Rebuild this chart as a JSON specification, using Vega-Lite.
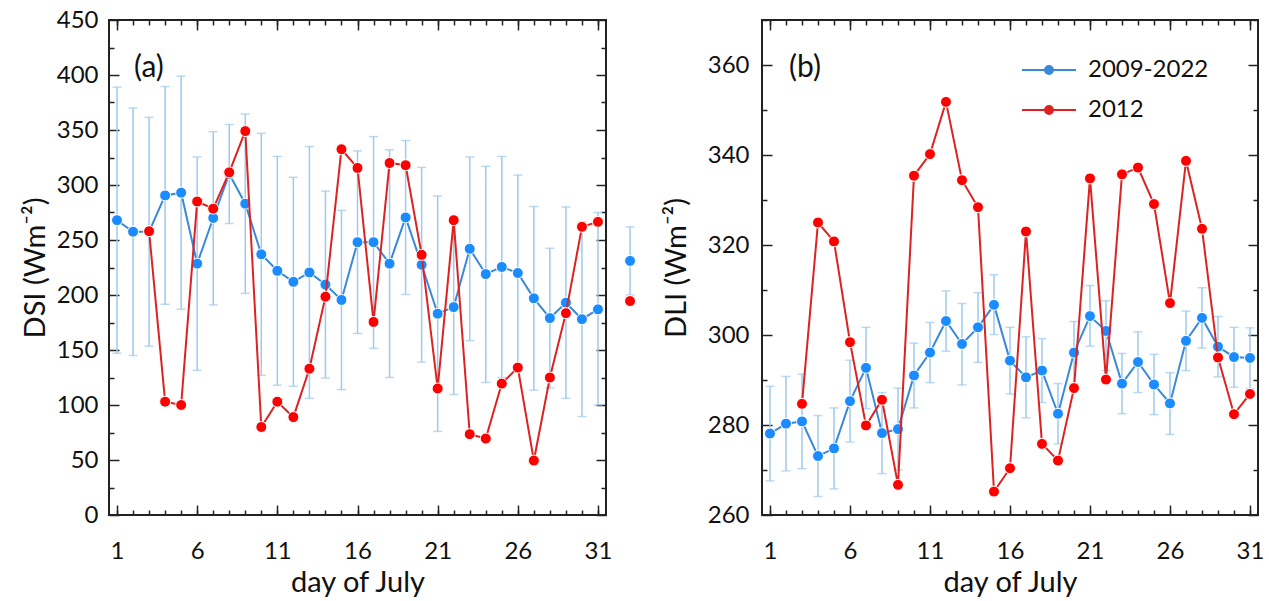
{
  "$schema": "https://vega.github.io/schema/vega-lite/v6.json",
  "padding": {"left": 20, "top": 7, "right": 10, "bottom": 3},
  "background": "white",
  "datasets": {
    "dsi": [
      {"day":1,"kind":"d","clim":268,"lo":147,"hi":389,"y2012":null},
      {"day":2,"kind":"d","clim":257.5,"lo":145,"hi":370,"y2012":null},
      {"day":3,"kind":"d","clim":257.5,"lo":153.5,"hi":361.5,"y2012":258},
      {"day":4,"kind":"d","clim":290.5,"lo":191.5,"hi":389.5,"y2012":103},
      {"day":5,"kind":"d","clim":293,"lo":187,"hi":399,"y2012":100},
      {"day":6,"kind":"d","clim":228.5,"lo":131.5,"hi":325.5,"y2012":285},
      {"day":7,"kind":"d","clim":270,"lo":191,"hi":348.5,"y2012":278.5},
      {"day":8,"kind":"d","clim":310,"lo":265,"hi":355,"y2012":311.5},
      {"day":9,"kind":"d","clim":283,"lo":201.5,"hi":364.5,"y2012":349},
      {"day":10,"kind":"d","clim":237,"lo":127,"hi":347,"y2012":80},
      {"day":11,"kind":"d","clim":222,"lo":118,"hi":326,"y2012":103},
      {"day":12,"kind":"d","clim":212,"lo":117,"hi":307,"y2012":89},
      {"day":13,"kind":"d","clim":220.5,"lo":106,"hi":335,"y2012":133},
      {"day":14,"kind":"d","clim":209.5,"lo":124.5,"hi":294.5,"y2012":198.5},
      {"day":15,"kind":"d","clim":195.5,"lo":114,"hi":277,"y2012":332.5},
      {"day":16,"kind":"d","clim":248,"lo":165,"hi":331,"y2012":315.5},
      {"day":17,"kind":"d","clim":248,"lo":151.5,"hi":344,"y2012":175.5},
      {"day":18,"kind":"d","clim":228.5,"lo":125,"hi":332,"y2012":320},
      {"day":19,"kind":"d","clim":270.5,"lo":200.5,"hi":340.5,"y2012":318},
      {"day":20,"kind":"d","clim":227.5,"lo":139,"hi":316,"y2012":236.5},
      {"day":21,"kind":"d","clim":183,"lo":76,"hi":290,"y2012":115},
      {"day":22,"kind":"d","clim":189,"lo":109.5,"hi":268.5,"y2012":268},
      {"day":23,"kind":"d","clim":242,"lo":158.5,"hi":325.5,"y2012":73.5},
      {"day":24,"kind":"d","clim":219,"lo":120.5,"hi":317,"y2012":69.5},
      {"day":25,"kind":"d","clim":225.5,"lo":125,"hi":326,"y2012":119.5},
      {"day":26,"kind":"d","clim":220,"lo":131,"hi":309,"y2012":134},
      {"day":27,"kind":"d","clim":197,"lo":113.5,"hi":280.5,"y2012":49.5},
      {"day":28,"kind":"d","clim":179,"lo":115.5,"hi":242.5,"y2012":125},
      {"day":29,"kind":"d","clim":193,"lo":106,"hi":280,"y2012":183.5},
      {"day":30,"kind":"d","clim":178,"lo":89.5,"hi":266.5,"y2012":262},
      {"day":31,"kind":"d","clim":187,"lo":100,"hi":275,"y2012":266.5},
      {"day":33,"kind":"m","clim":231,"lo":200,"hi":262,"y2012":194.5}
    ],
    "dli": [
      {"day":1,"kind":"d","clim":278.1,"lo":267.6,"hi":288.6,"y2012":null},
      {"day":2,"kind":"d","clim":280.3,"lo":269.8,"hi":290.8,"y2012":null},
      {"day":3,"kind":"d","clim":280.8,"lo":270.3,"hi":291.3,"y2012":284.7},
      {"day":4,"kind":"d","clim":273.1,"lo":264.1,"hi":282.1,"y2012":325.0},
      {"day":5,"kind":"d","clim":274.8,"lo":265.8,"hi":283.8,"y2012":320.8},
      {"day":6,"kind":"d","clim":285.3,"lo":276.2,"hi":294.4,"y2012":298.4},
      {"day":7,"kind":"d","clim":292.7,"lo":283.6,"hi":301.7,"y2012":279.9},
      {"day":8,"kind":"d","clim":278.2,"lo":269.2,"hi":287.2,"y2012":285.6},
      {"day":9,"kind":"d","clim":279.1,"lo":270.0,"hi":288.2,"y2012":266.7},
      {"day":10,"kind":"d","clim":291.0,"lo":283.8,"hi":298.2,"y2012":335.4},
      {"day":11,"kind":"d","clim":296.1,"lo":289.4,"hi":302.8,"y2012":340.2},
      {"day":12,"kind":"d","clim":303.1,"lo":296.4,"hi":309.8,"y2012":351.8},
      {"day":13,"kind":"d","clim":298.0,"lo":288.9,"hi":307.0,"y2012":334.4},
      {"day":14,"kind":"d","clim":301.7,"lo":293.9,"hi":309.4,"y2012":328.4},
      {"day":15,"kind":"d","clim":306.7,"lo":300.1,"hi":313.4,"y2012":265.2},
      {"day":16,"kind":"d","clim":294.3,"lo":286.9,"hi":301.7,"y2012":270.4},
      {"day":17,"kind":"d","clim":290.6,"lo":281.6,"hi":299.6,"y2012":323.0},
      {"day":18,"kind":"d","clim":292.1,"lo":285.0,"hi":299.2,"y2012":275.8},
      {"day":19,"kind":"d","clim":282.5,"lo":275.8,"hi":289.2,"y2012":272.1},
      {"day":20,"kind":"d","clim":296.1,"lo":289.2,"hi":303.0,"y2012":288.2},
      {"day":21,"kind":"d","clim":304.2,"lo":297.5,"hi":311.0,"y2012":334.8},
      {"day":22,"kind":"d","clim":300.9,"lo":292.1,"hi":307.6,"y2012":290.1},
      {"day":23,"kind":"d","clim":289.2,"lo":282.5,"hi":295.9,"y2012":335.7},
      {"day":24,"kind":"d","clim":294.0,"lo":287.2,"hi":300.7,"y2012":337.2},
      {"day":25,"kind":"d","clim":289.0,"lo":282.3,"hi":295.7,"y2012":329.1},
      {"day":26,"kind":"d","clim":284.8,"lo":277.9,"hi":291.6,"y2012":307.1},
      {"day":27,"kind":"d","clim":298.7,"lo":292.1,"hi":305.3,"y2012":338.7},
      {"day":28,"kind":"d","clim":303.8,"lo":297.1,"hi":310.5,"y2012":323.6},
      {"day":29,"kind":"d","clim":297.4,"lo":290.7,"hi":304.1,"y2012":295.0},
      {"day":30,"kind":"d","clim":295.1,"lo":288.4,"hi":301.7,"y2012":282.4},
      {"day":31,"kind":"d","clim":294.9,"lo":288.1,"hi":301.6,"y2012":286.9}
    ]
  },
  "hconcat": [
    {
      "width": 497,
      "height": 495,
      "data": {"name": "dsi"},
      "title": {"text": "(a)", "anchor": "start", "frame": "group", "orient": "top", "offset": 0, "dx": 25, "dy": 90, "baseline": "middle", "fontSize": 30, "fontWeight": "normal", "font": "Lato", "color": "#111"},
      "resolve": {"axis": {"x": "independent", "y": "independent"}},
      "layer": [
        {
          "mark": {"type": "rule", "color": "#9dcaee", "strokeWidth": 1.5},
          "encoding": {
            "x": {"field": "day", "type": "quantitative", "scale": {"domain": [0.5, 31.5], "nice": false, "zero": false},
                  "axis": {"orient": "bottom", "values": [1,6,11,16,21,26,31], "tickSize": -10, "labelPadding": 34, "title": "day of July", "titlePadding": 5, "labelFlush": false, "labelOverlap": false}},
            "y": {"field": "lo", "type": "quantitative", "scale": {"domain": [0, 450], "nice": false, "zero": false},
                  "axis": {"orient": "left", "values": [0,50,100,150,200,250,300,350,400,450], "tickSize": -10, "labelPadding": 21, "title": "DSI (Wm⁻²)", "titlePadding": 6, "labelFlush": false, "labelOverlap": false}},
            "y2": {"field": "hi"}
          }
        },
        {
          "mark": {"type": "tick", "orient": "horizontal", "color": "#9dcaee", "size": 9, "thickness": 1.5},
          "encoding": {
            "x": {"field": "day", "type": "quantitative", "scale": {"domain": [0.5, 31.5], "nice": false, "zero": false},
                  "axis": {"orient": "bottom", "values": [1,2,3,4,5,6,7,8,9,10,11,12,13,14,15,16,17,18,19,20,21,22,23,24,25,26,27,28,29,30,31], "tickSize": -5, "labels": false, "title": null}},
            "y": {"field": "hi", "type": "quantitative", "scale": {"domain": [0, 450], "nice": false, "zero": false},
                  "axis": {"orient": "left", "values": [25,75,125,175,225,275,325,375,425], "tickSize": -5, "labels": false, "title": null}}
          }
        },
        {
          "mark": {"type": "tick", "orient": "horizontal", "color": "#9dcaee", "size": 9, "thickness": 1.5},
          "encoding": {
            "x": {"field": "day", "type": "quantitative", "scale": {"domain": [0.5, 31.5], "nice": false, "zero": false},
                  "axis": {"orient": "top", "values": [1,6,11,16,21,26,31], "tickSize": -10, "labels": false, "title": null}},
            "y": {"field": "lo", "type": "quantitative", "scale": {"domain": [0, 450], "nice": false, "zero": false},
                  "axis": {"orient": "right", "values": [0,50,100,150,200,250,300,350,400,450], "tickSize": -10, "labels": false, "title": null}}
          }
        },
        {
          "transform": [{"filter": "datum.kind == 'd'"}],
          "mark": {"type": "line", "color": "#3a88d8", "strokeWidth": 2},
          "encoding": {
            "x": {"field": "day", "type": "quantitative", "scale": {"domain": [0.5, 31.5], "nice": false, "zero": false},
                  "axis": {"orient": "top", "values": [1,2,3,4,5,6,7,8,9,10,11,12,13,14,15,16,17,18,19,20,21,22,23,24,25,26,27,28,29,30,31], "tickSize": -5, "labels": false, "title": null}},
            "y": {"field": "clim", "type": "quantitative", "scale": {"domain": [0, 450], "nice": false, "zero": false},
                  "axis": {"orient": "right", "values": [25,75,125,175,225,275,325,375,425], "tickSize": -5, "labels": false, "title": null}}
          }
        },
        {
          "mark": {"type": "circle", "size": 120, "color": "#1a8cff", "stroke": "white", "strokeWidth": 1, "opacity": 1},
          "encoding": {
            "x": {"field": "day", "type": "quantitative", "axis": null},
            "y": {"field": "clim", "type": "quantitative", "axis": null}
          }
        },
        {
          "transform": [{"filter": "datum.kind == 'd'"}],
          "mark": {"type": "line", "color": "#dd2222", "strokeWidth": 2},
          "encoding": {
            "x": {"field": "day", "type": "quantitative", "axis": null},
            "y": {"field": "y2012", "type": "quantitative", "axis": null}
          }
        },
        {
          "mark": {"type": "circle", "size": 120, "color": "#ff0000", "stroke": "white", "strokeWidth": 1, "opacity": 1},
          "encoding": {
            "x": {"field": "day", "type": "quantitative", "axis": null},
            "y": {"field": "y2012", "type": "quantitative", "axis": null}
          }
        }
      ]
    },
    {
      "width": 496,
      "height": 495,
      "data": {"name": "dli"},
      "title": {"text": "(b)", "anchor": "start", "frame": "group", "orient": "top", "offset": 0, "dx": 27, "dy": 79, "baseline": "middle", "fontSize": 30, "fontWeight": "normal", "font": "Lato", "color": "#111"},
      "resolve": {"axis": {"x": "independent", "y": "independent"}},
      "layer": [
        {
          "mark": {"type": "rule", "color": "#9dcaee", "strokeWidth": 1.5},
          "encoding": {
            "x": {"field": "day", "type": "quantitative", "scale": {"domain": [0.5, 31.5], "nice": false, "zero": false},
                  "axis": {"orient": "bottom", "values": [1,6,11,16,21,26,31], "tickSize": -10, "labelPadding": 34, "title": "day of July", "titlePadding": 5, "labelFlush": false, "labelOverlap": false}},
            "y": {"field": "lo", "type": "quantitative", "scale": {"domain": [260, 370], "nice": false, "zero": false},
                  "axis": {"orient": "left", "values": [260,280,300,320,340,360], "tickSize": -10, "labelPadding": 23, "title": "DLI (Wm⁻²)", "titlePadding": 16, "labelFlush": false, "labelOverlap": false}},
            "y2": {"field": "hi"}
          }
        },
        {
          "mark": {"type": "tick", "orient": "horizontal", "color": "#9dcaee", "size": 9, "thickness": 1.5},
          "encoding": {
            "x": {"field": "day", "type": "quantitative", "scale": {"domain": [0.5, 31.5], "nice": false, "zero": false},
                  "axis": {"orient": "bottom", "values": [1,2,3,4,5,6,7,8,9,10,11,12,13,14,15,16,17,18,19,20,21,22,23,24,25,26,27,28,29,30,31], "tickSize": -5, "labels": false, "title": null}},
            "y": {"field": "hi", "type": "quantitative", "scale": {"domain": [260, 370], "nice": false, "zero": false},
                  "axis": {"orient": "left", "values": [270,290,310,330,350,370], "tickSize": -5, "labels": false, "title": null}}
          }
        },
        {
          "mark": {"type": "tick", "orient": "horizontal", "color": "#9dcaee", "size": 9, "thickness": 1.5},
          "encoding": {
            "x": {"field": "day", "type": "quantitative", "scale": {"domain": [0.5, 31.5], "nice": false, "zero": false},
                  "axis": {"orient": "top", "values": [1,6,11,16,21,26,31], "tickSize": -10, "labels": false, "title": null}},
            "y": {"field": "lo", "type": "quantitative", "scale": {"domain": [260, 370], "nice": false, "zero": false},
                  "axis": {"orient": "right", "values": [260,280,300,320,340,360], "tickSize": -10, "labels": false, "title": null}}
          }
        },
        {
          "mark": {"type": "line", "strokeWidth": 2},
          "encoding": {
            "x": {"field": "day", "type": "quantitative", "scale": {"domain": [0.5, 31.5], "nice": false, "zero": false},
                  "axis": {"orient": "top", "values": [1,2,3,4,5,6,7,8,9,10,11,12,13,14,15,16,17,18,19,20,21,22,23,24,25,26,27,28,29,30,31], "tickSize": -5, "labels": false, "title": null}},
            "y": {"field": "clim", "type": "quantitative", "scale": {"domain": [260, 370], "nice": false, "zero": false},
                  "axis": {"orient": "right", "values": [270,290,310,330,350,370], "tickSize": -5, "labels": false, "title": null}},
            "color": {"datum": "2009-2022", "type": "nominal",
                      "scale": {"domain": ["2009-2022", "2012"], "range": ["#3a88d8", "#dd2222"]},
                      "legend": {"orient": "none", "legendX": 266, "legendY": 29, "title": null, "direction": "vertical",
                                 "symbolType": "M-1.35,0H1.35M0.2,0A0.2,0.2,0,1,1,-0.2,0A0.2,0.2,0,1,1,0.2,0M0.11,0A0.11,0.11,0,1,1,-0.11,0A0.11,0.11,0,1,1,0.11,0M0.03,0A0.03,0.03,0,1,1,-0.03,0A0.03,0.03,0,1,1,0.03,0",
                                 "symbolSize": 1600, "symbolStrokeWidth": 2, "labelFontSize": 24, "labelFont": "Lato", "labelColor": "#111", "labelOffset": 18, "rowPadding": 7}}
          }
        },
        {
          "mark": {"type": "circle", "size": 120, "color": "#1a8cff", "stroke": "white", "strokeWidth": 1, "opacity": 1},
          "encoding": {
            "x": {"field": "day", "type": "quantitative", "axis": null},
            "y": {"field": "clim", "type": "quantitative", "axis": null}
          }
        },
        {
          "mark": {"type": "line", "strokeWidth": 2},
          "encoding": {
            "x": {"field": "day", "type": "quantitative", "axis": null},
            "y": {"field": "y2012", "type": "quantitative", "axis": null},
            "color": {"datum": "2012", "type": "nominal",
                      "scale": {"domain": ["2009-2022", "2012"], "range": ["#3a88d8", "#dd2222"]},
                      "legend": {"orient": "none", "legendX": 266, "legendY": 29, "title": null, "direction": "vertical",
                                 "symbolType": "M-1.35,0H1.35M0.2,0A0.2,0.2,0,1,1,-0.2,0A0.2,0.2,0,1,1,0.2,0M0.11,0A0.11,0.11,0,1,1,-0.11,0A0.11,0.11,0,1,1,0.11,0M0.03,0A0.03,0.03,0,1,1,-0.03,0A0.03,0.03,0,1,1,0.03,0",
                                 "symbolSize": 1600, "symbolStrokeWidth": 2, "labelFontSize": 24, "labelFont": "Lato", "labelColor": "#111", "labelOffset": 18, "rowPadding": 7}}
          }
        },
        {
          "mark": {"type": "circle", "size": 120, "color": "#ff0000", "stroke": "white", "strokeWidth": 1, "opacity": 1},
          "encoding": {
            "x": {"field": "day", "type": "quantitative", "axis": null},
            "y": {"field": "y2012", "type": "quantitative", "axis": null}
          }
        }
      ]
    }
  ],
  "spacing": 156,
  "bounds": "flush",
  "resolve": {"scale": {"color": "independent"}, "legend": {"color": "independent"}},
  "config": {
    "font": "Lato",
    "view": {"stroke": "#222", "strokeWidth": 2},
    "axis": {"labelFont": "Lato", "titleFont": "Lato", "labelFontSize": 24, "titleFontSize": 29, "titleFontWeight": "normal",
             "labelColor": "#111", "titleColor": "#111", "tickColor": "#222", "tickWidth": 1.5, "domain": false, "grid": false},
    "legend": {"labelFont": "Lato"}
  }
}
